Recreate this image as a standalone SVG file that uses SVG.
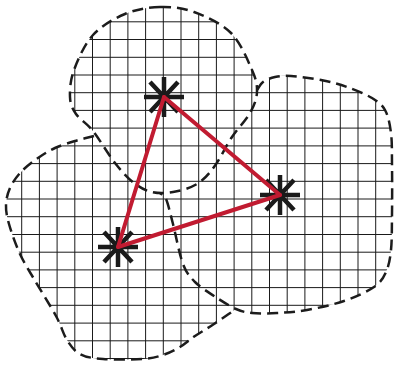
<svg xmlns="http://www.w3.org/2000/svg" xmlns:xlink="http://www.w3.org/1999/xlink" width="394" height="368" viewBox="0 0 394 368">
<style>
.dash{fill:none;stroke:#1c1c1c;stroke-width:2.5;stroke-dasharray:11 6}
.cover{fill:#ffffff;stroke:none}
.grid{fill:none;stroke:#1a1a1a;stroke-width:1}
.star{fill:none;stroke:#1a1a1a;stroke-width:4.5}
.link{fill:none;stroke:#c11b31;stroke-width:4;stroke-linejoin:round;stroke-linecap:round}
</style>
<defs>
<path id="circ" d="M160,7 C171.5,6.7 182.2,7.7 194,12 C205.8,16.3 221.3,23.3 231,33 C240.7,42.7 247.7,60.2 252,70 C256.3,79.8 257.3,84.8 257,92 C256.7,99.2 254.2,105.5 250,113 C245.8,120.5 238,128 232,137 C226,146 219.8,159.2 214,167 C208.2,174.8 203.8,179.8 197,184 C190.2,188.2 180.5,190.7 173,192 C165.5,193.3 158.5,193.5 152,192 C145.5,190.5 140.2,187.8 134,183 C127.8,178.2 121.8,171.7 115,163 C108.2,154.3 99.5,139.2 93,131 C86.5,122.8 79.8,119.7 76,114 C72.2,108.3 70.3,104.3 70,97 C69.7,89.7 70.2,80.3 74,70 C77.8,59.7 84.5,44.3 93,35 C101.5,25.7 113.8,18.7 125,14 C136.2,9.3 148.5,7.3 160,7 Z"/>
<path id="rEdge" d="M257,90 C259,87.3 260,84.2 263,82 C266,79.8 270.3,78 275,77 C279.7,76 283.3,75.5 291,76 C298.7,76.5 311.7,78.2 321,80 C330.3,81.8 338.5,84 347,87 C355.5,90 365.7,94.2 372,98 C378.3,101.8 381.8,104.2 385,110 C388.2,115.8 389.8,123.8 391,133 C392.2,142.2 391.8,151.3 392,165 C392.2,178.7 392.2,200.8 392,215 C391.8,229.2 392,240.5 391,250 C390,259.5 388.8,265.8 386,272 C383.2,278.2 381,282.2 374,287 C367,291.8 355.2,297.2 344,301 C332.8,304.8 318.2,308 307,310 C295.8,312 286.2,312.5 277,313 C267.8,313.5 258.8,313.7 252,313 C245.2,312.3 242.3,311.8 236,309 C229.7,306.2 220.8,300.5 214,296 C207.2,291.5 200.2,287.3 195,282 C189.8,276.7 186.7,273.7 183,264 C179.3,254.3 175.8,234.8 173,224 C170.2,213.2 168.2,204.2 166,199 C163.8,193.8 162,195 160,193"/>
<path id="rArea" d="M257,90 C259,87.3 260,84.2 263,82 C266,79.8 270.3,78 275,77 C279.7,76 283.3,75.5 291,76 C298.7,76.5 311.7,78.2 321,80 C330.3,81.8 338.5,84 347,87 C355.5,90 365.7,94.2 372,98 C378.3,101.8 381.8,104.2 385,110 C388.2,115.8 389.8,123.8 391,133 C392.2,142.2 391.8,151.3 392,165 C392.2,178.7 392.2,200.8 392,215 C391.8,229.2 392,240.5 391,250 C390,259.5 388.8,265.8 386,272 C383.2,278.2 381,282.2 374,287 C367,291.8 355.2,297.2 344,301 C332.8,304.8 318.2,308 307,310 C295.8,312 286.2,312.5 277,313 C267.8,313.5 258.8,313.7 252,313 C245.2,312.3 242.3,311.8 236,309 C229.7,306.2 220.8,300.5 214,296 C207.2,291.5 200.2,287.3 195,282 C189.8,276.7 186.7,273.7 183,264 C179.3,254.3 175.8,234.8 173,224 C170.2,213.2 168.2,204.2 166,199 C163.8,193.8 162,195 160,193 L200,150 Z"/>
<path id="lEdge" d="M94,136 C87.7,137.7 81.5,139 75,141 C68.5,143 61.2,145.2 55,148 C48.8,150.8 43.7,154 38,158 C32.3,162 25.7,167 21,172 C16.3,177 12.5,182.5 10,188 C7.5,193.5 6.2,199 6,205 C5.8,211 6.7,215.8 9,224 C11.3,232.2 15.8,244.8 20,254 C24.2,263.2 28,268.7 34,279 C40,289.3 50.5,305.8 56,316 C61.5,326.2 63,333.7 67,340 C71,346.3 74,350.8 80,354 C86,357.2 92.5,358.2 103,359 C113.5,359.8 133,359.7 143,359 C153,358.3 156.8,357 163,355 C169.2,353 174.7,350.2 180,347 C185.3,343.8 189.3,339.8 195,336 C200.7,332.2 207.2,328.5 214,324 C220.8,319.5 228.7,314 236,309"/>
<path id="lArea" d="M94,136 C87.7,137.7 81.5,139 75,141 C68.5,143 61.2,145.2 55,148 C48.8,150.8 43.7,154 38,158 C32.3,162 25.7,167 21,172 C16.3,177 12.5,182.5 10,188 C7.5,193.5 6.2,199 6,205 C5.8,211 6.7,215.8 9,224 C11.3,232.2 15.8,244.8 20,254 C24.2,263.2 28,268.7 34,279 C40,289.3 50.5,305.8 56,316 C61.5,326.2 63,333.7 67,340 C71,346.3 74,350.8 80,354 C86,357.2 92.5,358.2 103,359 C113.5,359.8 133,359.7 143,359 C153,358.3 156.8,357 163,355 C169.2,353 174.7,350.2 180,347 C185.3,343.8 189.3,339.8 195,336 C200.7,332.2 207.2,328.5 214,324 C220.8,319.5 228.7,314 236,309 L200,240 L160,190 L120,160 Z"/>
<clipPath id="gridClip">
<use xlink:href="#circ" href="#circ"/>
<use xlink:href="#rArea" href="#rArea"/>
<use xlink:href="#lArea" href="#lArea"/>
</clipPath>
<path id="star" class="star" d="M-20,0H20M0,-20V20M-14,-15L14,15M-14,15L14,-15"/>
</defs>
<g id="regions">
<use class="dash" xlink:href="#lEdge" href="#lEdge"/>
<use class="cover" xlink:href="#rArea" href="#rArea"/>
<use class="dash" xlink:href="#rEdge" href="#rEdge"/>
<use class="cover" xlink:href="#circ" href="#circ"/>
<use class="dash" xlink:href="#circ" href="#circ"/>
</g>
<g id="grid" clip-path="url(#gridClip)">
<path class="grid" d="M4,0V368M21.7,0V368M39.4,0V368M57.1,0V368M74.8,0V368M92.5,0V368M110.2,0V368M127.9,0V368M145.6,0V368M163.3,0V368M181,0V368M198.7,0V368M216.4,0V368M234.1,0V368M251.8,0V368M269.5,0V368M287.2,0V368M304.9,0V368M322.6,0V368M340.3,0V368M358,0V368M375.7,0V368"/>
<path class="grid" d="M0,4.1H394M0,21.8H394M0,39.5H394M0,57.3H394M0,75H394M0,92.7H394M0,110.4H394M0,128.1H394M0,145.9H394M0,163.6H394M0,181.3H394M0,199H394M0,216.7H394M0,234.5H394M0,252.2H394M0,269.9H394M0,287.6H394M0,305.3H394M0,323.1H394M0,340.8H394M0,358.5H394"/>
</g>
<g id="node-top" transform="translate(164,97)"><use xlink:href="#star" href="#star"/></g>
<g id="node-right" transform="translate(280,195)"><use xlink:href="#star" href="#star"/></g>
<g id="node-left" transform="translate(118,247)"><use xlink:href="#star" href="#star"/></g>
<g id="connectors">
<line class="link" x1="164" y1="97" x2="280" y2="195"/>
<line class="link" x1="280" y1="195" x2="118" y2="247"/>
<line class="link" x1="118" y1="247" x2="164" y2="97"/>
</g>
</svg>
